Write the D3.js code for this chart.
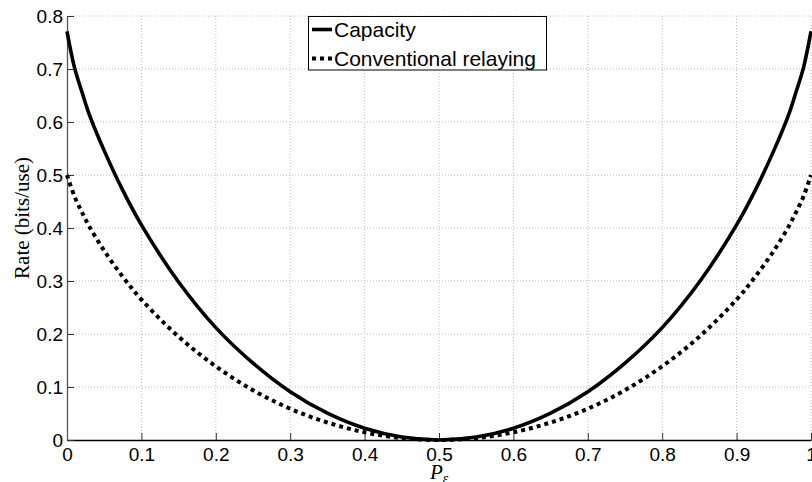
<!DOCTYPE html>
<html>
<head>
<meta charset="utf-8">
<script src="https://cdn.jsdelivr.net/npm/d3@7"></script>
<style>
html,body{margin:0;padding:0;background:#fff;}
svg{display:block;}
</style>
</head>
<body>
<svg id="chart" width="812" height="482"></svg>
<script>
const pe = [0,0.01,0.02,0.03,0.05,0.075,0.1,0.15,0.2,0.25,0.3,0.35,0.4,0.45,0.5,0.55,0.6,0.65,0.7,0.75,0.8,0.85,0.9,0.925,0.95,0.97,0.98,0.99,1];
const capacity = [0.771,0.703,0.657,0.614,0.546,0.471,0.406,0.298,0.212,0.145,0.091,0.0505,0.022,0.0055,0,0.0055,0.022,0.0505,0.091,0.145,0.212,0.298,0.406,0.471,0.546,0.614,0.657,0.703,0.771];
const conventional = [0.5,0.460,0.430,0.403,0.357,0.308,0.265,0.195,0.139,0.094,0.059,0.033,0.0145,0.0036,0,0.0036,0.0145,0.033,0.059,0.094,0.139,0.195,0.265,0.308,0.357,0.403,0.430,0.460,0.5];
const xTicks = [0,0.1,0.2,0.3,0.4,0.5,0.6,0.7,0.8,0.9,1];
const xTickLabels = ["0","0.1","0.2","0.3","0.4","0.5","0.6","0.7","0.8","0.9","1"];
const yTicks = [0,0.1,0.2,0.3,0.4,0.5,0.6,0.7,0.8];
const yTickLabels = ["0","0.1","0.2","0.3","0.4","0.5","0.6","0.7","0.8"];
const seriesNames = ["Capacity","Conventional relaying"];

const svg = d3.select("#chart");
const L = 67, R = 811, T = 16, B = 440;
const x = d3.scaleLinear().domain([0,1]).range([L,R]);
const y = d3.scaleLinear().domain([0,0.8]).range([B,T]);

// grid
const grid = svg.append("g");
grid.selectAll("line.gx").data(xTicks.slice(1)).enter().append("line")
  .attr("x1", d=>x(d)).attr("x2", d=>x(d)).attr("y1", B).attr("y2", T)
  .attr("stroke", "#bdbdbd").attr("stroke-width", 1).attr("stroke-dasharray", "1,2");
grid.selectAll("line.gy").data(yTicks.slice(1)).enter().append("line")
  .attr("x1", L).attr("x2", R).attr("y1", d=>y(d)).attr("y2", d=>y(d))
  .attr("stroke", "#bdbdbd").attr("stroke-width", 1).attr("stroke-dasharray", "1,2");

// axes
const xAxis = d3.axisBottom(x).tickValues(xTicks).tickFormat((d,i)=>xTickLabels[i]).tickSizeInner(-7).tickSizeOuter(0).tickPadding(8);
const gx = svg.append("g").attr("transform", `translate(0,${B})`).call(xAxis);
gx.select(".domain").attr("stroke", "#000").attr("stroke-width", 1.3);
gx.selectAll(".tick line").attr("stroke", "#333");
gx.selectAll("text").attr("font-family", "Liberation Sans, Arial, sans-serif").attr("font-size", 19).attr("fill", "#000");

const yAxis = d3.axisLeft(y).tickValues(yTicks).tickFormat((d,i)=>yTickLabels[i]).tickSizeInner(-7).tickSizeOuter(0).tickPadding(4);
const gy = svg.append("g").attr("transform", `translate(${L},0)`).call(yAxis);
gy.select(".domain").attr("stroke", "#555").attr("stroke-width", 1.3);
gy.selectAll(".tick line").attr("stroke", "#333");
gy.selectAll("text").attr("font-family", "Liberation Sans, Arial, sans-serif").attr("font-size", 19).attr("fill", "#000");

// lines
const data1 = pe.map((p,i)=>[p,capacity[i]]);
const data2 = pe.map((p,i)=>[p,conventional[i]]);
const line = d3.line().x(d=>x(d[0])).y(d=>y(d[1])).curve(d3.curveCatmullRom.alpha(0.5));
svg.append("path").attr("d", line(data2)).attr("fill","none").attr("stroke","#000")
  .attr("stroke-width", 4).attr("stroke-dasharray","4,4");
svg.append("path").attr("d", line(data1)).attr("fill","none").attr("stroke","#000")
  .attr("stroke-width", 3.6);

// legend
const lg = svg.append("g");
lg.append("rect").attr("x", 308.5).attr("y", 16.5).attr("width", 238).attr("height", 53.5)
  .attr("fill", "#fff").attr("stroke", "#000").attr("stroke-width", 1);
const rows = [29.5, 58.5];
lg.append("line").attr("x1", 312).attr("x2", 332).attr("y1", rows[0]).attr("y2", rows[0])
  .attr("stroke", "#000").attr("stroke-width", 3.6);
lg.append("line").attr("x1", 312).attr("x2", 332).attr("y1", rows[1]).attr("y2", rows[1])
  .attr("stroke", "#000").attr("stroke-width", 4).attr("stroke-dasharray", "4,4");
seriesNames.forEach((n,i)=>{
  lg.append("text").attr("x", 334).attr("y", rows[i]).attr("dy", "0.35em")
    .attr("font-family", "Liberation Sans, Arial, sans-serif").attr("font-size", 21).text(n);
});

// axis titles
svg.append("text").attr("transform", "translate(22,218) rotate(-90)")
  .attr("text-anchor", "middle").attr("dy", "0.35em")
  .attr("font-family", "Liberation Serif, Times New Roman, serif").attr("font-size", 21)
  .text("Rate (bits/use)");
const xt = svg.append("text").attr("x", 430).attr("y", 479)
  .attr("font-family", "Liberation Serif, Times New Roman, serif").attr("font-size", 21).attr("font-style", "italic");
xt.append("tspan").text("P");
xt.append("tspan").attr("font-size", 14).attr("dy", 4).text("ε");
</script>
</body>
</html>
